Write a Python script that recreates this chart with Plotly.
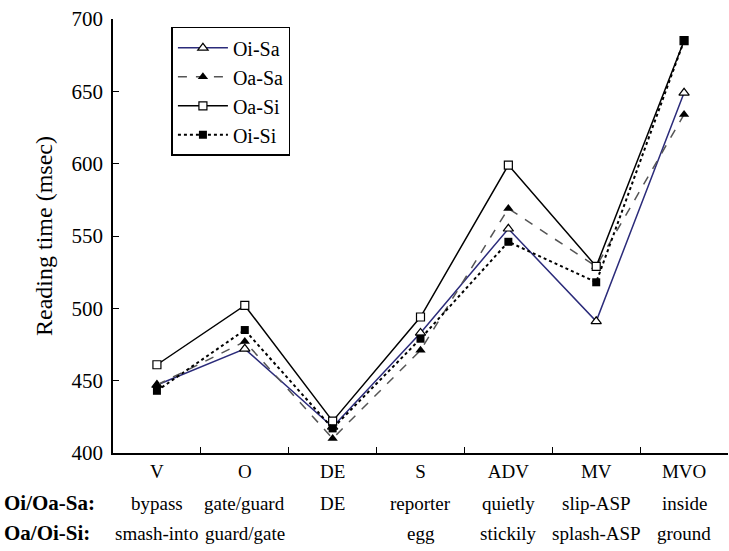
import plotly.graph_objects as go

categories = ["V", "O", "DE", "S", "ADV", "MV", "MVO"]
row_sa_words = ["bypass", "gate/guard", "DE", "reporter", "quietly", "slip-ASP", "inside"]
row_si_words = ["smash-into", "guard/gate", "", "egg", "stickily", "splash-ASP", "ground"]
row_titles = ["Oi/Oa-Sa:", "Oa/Oi-Si:"]
series_names = ["Oi-Sa", "Oa-Sa", "Oa-Si", "Oi-Si"]

oi_sa = [447, 472, 418, 483, 555, 491, 649]
oa_sa = [447, 477, 410, 471, 569, 529, 634]
oa_si = [461, 502, 422, 494, 599, 529, 685]
oi_si = [443, 485, 417, 479, 546, 518, 685]

y_ticks = [400, 450, 500, 550, 600, 650, 700]

FONT = "Liberation Serif"
fig = go.Figure()

styles = [
    (dict(color="#2b2b7a", width=1.5, dash="solid"),
     dict(symbol="triangle-up", size=9, color="white", line=dict(color="black", width=1.2))),
    (dict(color="#555555", width=1.5, dash="dash"),
     dict(symbol="triangle-up", size=9, color="black", line=dict(color="black", width=0))),
    (dict(color="black", width=1.5, dash="solid"),
     dict(symbol="square", size=8, color="white", line=dict(color="black", width=1.2))),
    (dict(color="black", width=2, dash="dot"),
     dict(symbol="square", size=8, color="black", line=dict(color="black", width=0))),
]
for name, vals, (line, marker) in zip(series_names, [oi_sa, oa_sa, oa_si, oi_si], styles):
    fig.add_trace(go.Scatter(x=categories, y=vals, name=name, mode="lines+markers",
                             line=line, marker=marker))

annotations = []
for i, cat in enumerate(categories):
    for r, words in enumerate([row_sa_words, row_si_words]):
        if words[i]:
            annotations.append(dict(x=cat, xref="x", y=0, yref="paper", yanchor="middle",
                                    yshift=-50 - 30 * r, text=words[i], showarrow=False,
                                    font=dict(family=FONT, size=19, color="black")))
for r, t in enumerate(row_titles):
    annotations.append(dict(x=0, xref="paper", y=0, yref="paper", xanchor="left",
                            yanchor="middle", xshift=-111, yshift=-50 - 30 * r,
                            text="<b>" + t + "</b>", showarrow=False,
                            font=dict(family=FONT, size=21, color="black")))

fig.update_layout(
    width=729, height=551,
    margin=dict(l=113, r=1, t=19, b=98),
    paper_bgcolor="white", plot_bgcolor="white",
    font=dict(family=FONT, size=20, color="black"),
    showlegend=True,
    legend=dict(x=0.095, y=0.982, xanchor="left", yanchor="top",
                bordercolor="black", borderwidth=1.5, bgcolor="white",
                font=dict(family=FONT, size=20), tracegroupgap=0, itemwidth=50),
    annotations=annotations,
)
fig.update_xaxes(type="category", range=[-0.5, 6.5], showline=True, linecolor="black",
                 linewidth=1.5, ticks="inside", ticklen=6, tickcolor="black",
                 tickson="boundaries", showgrid=False, zeroline=False,
                 tickfont=dict(family=FONT, size=19))
fig.update_yaxes(range=[400, 700], tickvals=y_ticks, showline=True, linecolor="black",
                 linewidth=1.5, ticks="inside", ticklen=6, tickcolor="black",
                 showgrid=False, zeroline=False, tickfont=dict(family=FONT, size=21),
                 ticklabelstandoff=4,
                 title=dict(text="Reading time (msec)", font=dict(family=FONT, size=24),
                            standoff=12))

fig.write_html("out.html")
